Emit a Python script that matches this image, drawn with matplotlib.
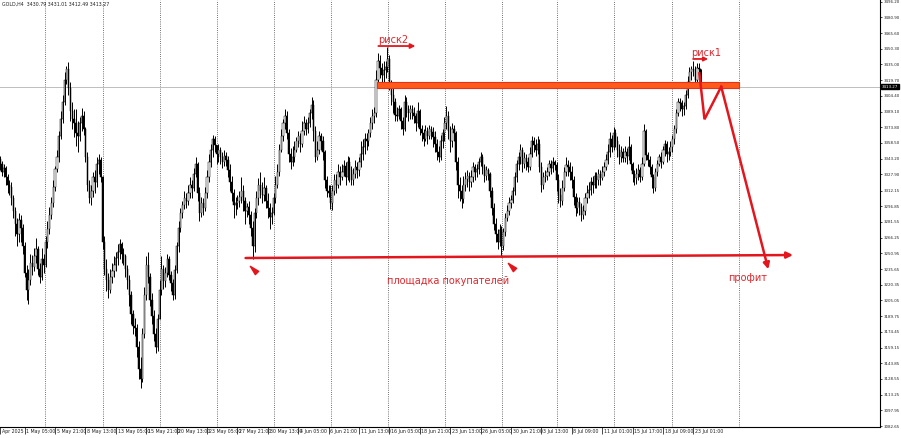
import matplotlib
matplotlib.use("Agg")
import matplotlib.pyplot as plt
from matplotlib.patches import Rectangle
from matplotlib.path import Path
from matplotlib.transforms import blended_transform_factory

# GOLD H4, 29 Apr 2025 01:00 .. 23 Jul 2025, one value per bar (open = previous close)
first_open = 3343.0
closes = [
    3338, 3330, 3334, 3325, 3318, 3316,   # 29 Apr
    3305, 3292, 3280, 3270, 3283, 3276,   # 30 Apr
    3258, 3232, 3215, 3225, 3242, 3238,   # 1 May
    3248, 3255, 3236, 3228, 3245, 3240,   # 2 May
    3262, 3275, 3288, 3300, 3316, 3333,   # 5 May
    3345, 3365, 3382, 3398, 3420, 3431,   # 6 May
    3412, 3390, 3382, 3378, 3368, 3365,   # 7 May
    3378, 3385, 3372, 3345, 3318, 3305,   # 8 May
    3312, 3325, 3320, 3338, 3342, 3325,   # 9 May
    3262, 3236, 3225, 3215, 3228, 3234,   # 12 May
    3240, 3246, 3252, 3260, 3250, 3248,   # 13 May
    3236, 3225, 3210, 3192, 3180, 3178,   # 14 May
    3160, 3138, 3128, 3172, 3210, 3240,   # 15 May
    3228, 3205, 3190, 3172, 3160, 3187,   # 16 May
    3215, 3236, 3224, 3232, 3245, 3230,   # 19 May
    3222, 3210, 3235, 3258, 3276, 3290,   # 20 May
    3298, 3305, 3302, 3310, 3318, 3315,   # 21 May
    3328, 3338, 3310, 3290, 3300, 3295,   # 22 May
    3310, 3325, 3340, 3352, 3362, 3357,   # 23 May
    3348, 3352, 3345, 3340, 3346, 3342,   # 26 May
    3332, 3320, 3310, 3298, 3300, 3302,   # 27 May
    3306, 3312, 3302, 3292, 3296, 3288,   # 28 May
    3276, 3258, 3290, 3305, 3318, 3312,   # 29 May
    3308, 3315, 3302, 3295, 3286, 3290,   # 30 May
    3305, 3318, 3330, 3352, 3365, 3378,   # 2 Jun
    3385, 3368, 3348, 3340, 3345, 3352,   # 3 Jun
    3360, 3365, 3358, 3370, 3378, 3372,   # 4 Jun
    3378, 3388, 3396, 3370, 3345, 3352,   # 5 Jun
    3365, 3360, 3350, 3322, 3312, 3310,   # 6 Jun
    3300, 3312, 3322, 3318, 3330, 3325,   # 9 Jun
    3330, 3336, 3325, 3340, 3332, 3322,   # 10 Jun
    3328, 3335, 3332, 3340, 3348, 3355,   # 11 Jun
    3362, 3360, 3368, 3378, 3385, 3388,   # 12 Jun
    3420, 3438, 3432, 3425, 3430, 3433,   # 13 Jun
    3440, 3415, 3405, 3398, 3386, 3385,   # 16 Jun
    3392, 3380, 3372, 3398, 3392, 3388,   # 17 Jun
    3392, 3388, 3385, 3378, 3390, 3372,   # 18 Jun
    3368, 3362, 3370, 3365, 3372, 3369,   # 19 Jun
    3364, 3358, 3350, 3345, 3360, 3368,   # 20 Jun
    3378, 3385, 3370, 3360, 3372, 3368,   # 23 Jun
    3340, 3318, 3312, 3304, 3318, 3323,   # 24 Jun
    3326, 3320, 3325, 3335, 3330, 3333,   # 25 Jun
    3340, 3345, 3335, 3326, 3332, 3328,   # 26 Jun
    3312, 3295, 3280, 3270, 3262, 3274,   # 27 Jun
    3258, 3272, 3285, 3292, 3300, 3303,   # 30 Jun
    3312, 3325, 3338, 3345, 3352, 3338,   # 1 Jul
    3344, 3340, 3335, 3348, 3360, 3357,   # 2 Jul
    3352, 3358, 3335, 3318, 3325, 3326,   # 3 Jul
    3330, 3338, 3334, 3340, 3337,         # 4 Jul
    3322, 3308, 3302, 3315, 3330, 3337,   # 7 Jul
    3335, 3330, 3322, 3306, 3295, 3301,   # 8 Jul
    3296, 3288, 3292, 3305, 3310, 3313,   # 9 Jul
    3320, 3318, 3326, 3322, 3328, 3324,   # 10 Jul
    3330, 3335, 3342, 3350, 3362, 3355,   # 11 Jul
    3368, 3360, 3352, 3345, 3350, 3344,   # 14 Jul
    3350, 3346, 3355, 3338, 3328, 3324,   # 15 Jul
    3328, 3332, 3325, 3338, 3370, 3347,   # 16 Jul
    3342, 3335, 3325, 3315, 3330, 3338,   # 17 Jul
    3345, 3340, 3352, 3358, 3348, 3350,   # 18 Jul
    3355, 3362, 3372, 3388, 3398, 3397,   # 21 Jul
    3392, 3395, 3405, 3418, 3428, 3431,   # 22 Jul
    3430, 3420, 3432, 3430.79, 3413.27,   # 23 Jul
]
highs = [
    3346, 3341, 3338, 3336, 3328, 3322,
    3320, 3308, 3296, 3285, 3290, 3288,
    3280, 3262, 3240, 3236, 3250, 3249,
    3256, 3266, 3258, 3242, 3256, 3250,
    3268, 3282, 3296, 3306, 3322, 3336,
    3352, 3370, 3390, 3405, 3428, 3434,
    3437, 3418, 3398, 3392, 3392, 3380,
    3384, 3393, 3390, 3374, 3350, 3322,
    3318, 3330, 3332, 3345, 3348, 3345,
    3326, 3268, 3245, 3232, 3236, 3242,
    3248, 3252, 3260, 3265, 3262, 3256,
    3250, 3240, 3230, 3214, 3196, 3188,
    3182, 3166, 3150, 3178, 3218, 3248,
    3252, 3232, 3212, 3196, 3178, 3192,
    3225, 3248, 3240, 3238, 3250, 3248,
    3234, 3226, 3240, 3262, 3282, 3295,
    3302, 3312, 3310, 3318, 3325, 3322,
    3334, 3345, 3340, 3316, 3306, 3305,
    3316, 3332, 3348, 3358, 3366, 3365,
    3356, 3358, 3355, 3350, 3352, 3350,
    3346, 3338, 3326, 3314, 3306, 3308,
    3312, 3325, 3318, 3306, 3300, 3302,
    3292, 3282, 3295, 3312, 3324, 3330,
    3320, 3325, 3318, 3310, 3300, 3296,
    3310, 3326, 3338, 3358, 3372, 3382,
    3392, 3390, 3372, 3354, 3356, 3360,
    3364, 3370, 3368, 3380, 3385, 3382,
    3384, 3392, 3403, 3400, 3375, 3360,
    3370, 3368, 3365, 3352, 3326, 3318,
    3318, 3318, 3328, 3328, 3338, 3336,
    3338, 3342, 3340, 3346, 3345, 3336,
    3334, 3342, 3340, 3345, 3360, 3362,
    3368, 3368, 3372, 3384, 3392, 3394,
    3430, 3446, 3444, 3436, 3438, 3438,
    3452, 3444, 3420, 3412, 3402, 3394,
    3396, 3394, 3384, 3405, 3403, 3396,
    3396, 3396, 3394, 3388, 3398, 3392,
    3376, 3372, 3376, 3374, 3376, 3375,
    3374, 3370, 3362, 3356, 3366, 3372,
    3384, 3395, 3390, 3375, 3378, 3376,
    3370, 3345, 3325, 3318, 3326, 3330,
    3332, 3330, 3332, 3340, 3338, 3338,
    3344, 3350, 3348, 3338, 3336, 3334,
    3330, 3316, 3300, 3285, 3275, 3280,
    3278, 3276, 3290, 3298, 3306, 3308,
    3316, 3330, 3342, 3350, 3358, 3355,
    3350, 3348, 3345, 3355, 3365, 3364,
    3362, 3365, 3362, 3340, 3330, 3332,
    3335, 3342, 3342, 3345, 3342,
    3340, 3328, 3315, 3322, 3335, 3345,
    3342, 3340, 3336, 3326, 3310, 3306,
    3306, 3300, 3298, 3310, 3318, 3320,
    3325, 3326, 3330, 3330, 3333, 3332,
    3336, 3340, 3348, 3358, 3369, 3366,
    3374, 3372, 3365, 3358, 3356, 3354,
    3356, 3354, 3365, 3358, 3340, 3332,
    3334, 3338, 3335, 3345, 3377, 3372,
    3350, 3346, 3338, 3328, 3334, 3342,
    3348, 3350, 3356, 3361, 3360, 3355,
    3360, 3366, 3376, 3392, 3402, 3402,
    3400, 3398, 3410, 3424, 3433, 3434,
    3438, 3434, 3436, 3436, 3431.01,
]
lows = [
    3332, 3326, 3325, 3318, 3310, 3308,
    3298, 3285, 3268, 3258, 3262, 3262,
    3250, 3228, 3205, 3202, 3220, 3230,
    3234, 3242, 3230, 3222, 3225, 3232,
    3238, 3256, 3270, 3284, 3296, 3312,
    3330, 3340, 3362, 3378, 3396, 3416,
    3405, 3380, 3372, 3364, 3356, 3350,
    3360, 3370, 3366, 3340, 3312, 3300,
    3298, 3306, 3310, 3316, 3328, 3320,
    3255, 3230, 3214, 3207, 3212, 3222,
    3228, 3234, 3240, 3245, 3242, 3240,
    3228, 3216, 3200, 3182, 3172, 3170,
    3150, 3128, 3120, 3126, 3168, 3205,
    3222, 3200, 3182, 3166, 3154, 3156,
    3190, 3210, 3216, 3218, 3228, 3225,
    3214, 3205, 3206, 3232, 3252, 3272,
    3285, 3294, 3295, 3298, 3305, 3305,
    3312, 3325, 3302, 3282, 3286, 3288,
    3292, 3305, 3320, 3335, 3345, 3350,
    3338, 3340, 3338, 3334, 3336, 3336,
    3325, 3312, 3302, 3285, 3288, 3294,
    3296, 3300, 3292, 3280, 3286, 3280,
    3268, 3245, 3252, 3285, 3298, 3305,
    3300, 3302, 3295, 3285, 3275, 3280,
    3288, 3300, 3315, 3326, 3350, 3360,
    3372, 3362, 3340, 3333, 3336, 3340,
    3350, 3355, 3350, 3355, 3366, 3366,
    3368, 3374, 3382, 3360, 3340, 3342,
    3348, 3352, 3342, 3315, 3306, 3306,
    3294, 3293, 3308, 3310, 3315, 3318,
    3322, 3326, 3318, 3322, 3320, 3318,
    3318, 3324, 3324, 3326, 3335, 3342,
    3348, 3352, 3356, 3364, 3372, 3378,
    3384, 3415, 3422, 3415, 3418, 3422,
    3428, 3410, 3396, 3388, 3380, 3380,
    3382, 3372, 3366, 3370, 3384, 3380,
    3382, 3382, 3378, 3370, 3374, 3366,
    3360, 3356, 3360, 3358, 3362, 3362,
    3355, 3350, 3342, 3340, 3342, 3354,
    3360, 3372, 3362, 3350, 3355, 3360,
    3332, 3305, 3302, 3295, 3300, 3312,
    3316, 3312, 3316, 3320, 3322, 3325,
    3328, 3336, 3328, 3320, 3322, 3322,
    3306, 3288, 3274, 3262, 3255, 3258,
    3247, 3254, 3268, 3282, 3288, 3295,
    3300, 3308, 3320, 3332, 3338, 3330,
    3334, 3332, 3330, 3332, 3345, 3350,
    3346, 3348, 3330, 3311, 3314, 3320,
    3322, 3326, 3328, 3330, 3332,
    3312, 3300, 3296, 3298, 3312, 3326,
    3326, 3322, 3315, 3298, 3287, 3290,
    3288, 3282, 3284, 3288, 3300, 3305,
    3308, 3310, 3315, 3315, 3318, 3318,
    3322, 3326, 3332, 3338, 3345, 3350,
    3352, 3355, 3345, 3338, 3340, 3340,
    3340, 3338, 3342, 3332, 3320, 3318,
    3319, 3322, 3320, 3322, 3336, 3342,
    3336, 3328, 3315, 3310, 3312, 3326,
    3336, 3334, 3338, 3346, 3340, 3342,
    3346, 3350, 3358, 3368, 3385, 3390,
    3385, 3386, 3392, 3402, 3414, 3420,
    3424, 3412, 3415, 3426, 3412.49,
]
assert len(closes) == len(highs) == len(lows) == 370

# time axis labels (bar index, text)
xtick_bars = [0, 13, 29, 45, 61, 77, 93, 109, 125, 141, 157, 173, 189, 205,
              221, 237, 253, 269, 285, 301, 317, 333, 349, 365]
xtick_labels = ["Apr 2025", "1 May 05:00", "5 May 21:00", "8 May 13:00", "13 May 05:00",
                "15 May 21:00", "20 May 13:00", "23 May 05:00", "27 May 21:00",
                "30 May 13:00", "4 Jun 05:00", "6 Jun 21:00", "11 Jun 13:00",
                "16 Jun 05:00", "18 Jun 21:00", "23 Jun 13:00", "26 Jun 05:00",
                "30 Jun 21:00", "3 Jul 13:00", "8 Jul 09:00", "11 Jul 01:00",
                "15 Jul 17:00", "18 Jul 09:00", "23 Jul 01:00"]
grid_bars = [23.7, 54.0, 84.2, 114.2, 144.1, 174.3, 204.1, 234.2, 264.5, 293.2,
             323.4, 353.6, 389.1]
price_ticks = [3496.20, 3480.90, 3465.60, 3450.30, 3435.00, 3419.70, 3404.40, 3389.10,
               3373.80, 3358.50, 3343.20, 3327.90, 3312.15, 3296.85, 3281.55, 3266.25,
               3250.95, 3235.65, 3220.35, 3205.05, 3189.75, 3174.45, 3159.15, 3143.85,
               3128.55, 3113.25, 3097.95, 3082.65]
last_ohlc = [3430.79, 3431.01, 3412.49, 3413.27]

# hand-drawn analysis objects (bar index, price)
band_bars = [198.7, 389.1]
band_prices = [3412.3, 3418.3]
risk2_text = (199.2, 3458.4)
risk2_arrow = [(199.2, 3453.0), (218.7, 3453.0)]
risk1_text = (363.9, 3446.2)
risk1_arrow = [(364.9, 3440.4), (372.8, 3440.4)]
zig_bars = [368.2, 370.9, 379.7, 404.5]
zig_prices = [3426.4, 3381.6, 3413.4, 3235.4]
support_bars = [129.3, 417.5]
support_prices = [3246.4, 3249.3]
marker_bars = [133.5, 269.7]
marker_prices = [3234.7, 3237.6]
buyers_text = (236.0, 3224.0)
profit_text = (393.8, 3226.9)

RED = "#e3161d"
TXT_RED = "#e0262c"

# arrow-head marker pointing up-left (MT4 style)
up_left = Path([(-1, 1), (1.0, -0.2), (0.2, -1.0), (-1, 1)],
               [Path.MOVETO, Path.LINETO, Path.LINETO, Path.CLOSEPOLY])

fig = plt.figure(figsize=(9.01, 4.38), dpi=100)
ax = fig.add_axes([0, 11 / 438, 880 / 901, 427 / 438])
ax.set_xlim(0.38, 463.3)
ax.set_ylim(3081.7, 3497.86)

for s in ("top", "left"):
    ax.spines[s].set_visible(False)
for s in ("right", "bottom"):
    ax.spines[s].set_linewidth(0.8)

# grid
for g in grid_bars:
    ax.axvline(g, color="#444444", lw=0.6, ls=(0, (1, 1.6)), zorder=1)

# candles
opens = [first_open] + closes[:-1]
opens[-1] = last_ohlc[0]
for i, (o, h, l, c) in enumerate(zip(opens, highs, lows, closes)):
    ax.vlines(i, min(l, o, c), max(h, o, c), color="black", lw=0.7, zorder=2)
    bull = c >= o
    ax.add_patch(Rectangle((i - 0.32, min(o, c)), 0.64, max(abs(c - o), 0.4),
                           facecolor="white" if bull else "black",
                           edgecolor="black", lw=0.35, zorder=2.5))

# current price line
ax.axhline(last_ohlc[3], color="#bdbdbd", lw=0.7, zorder=1.5)

# analysis
ax.add_patch(Rectangle((band_bars[0], band_prices[0]), band_bars[1] - band_bars[0],
                       band_prices[1] - band_prices[0], facecolor="#ff5a1a",
                       edgecolor="#e4321c", lw=0.8, zorder=3))
ax.text(*risk2_text, "риск2", color=TXT_RED, fontsize=7, va="center", ha="left", zorder=5)
ax.annotate("", xy=risk2_arrow[1], xytext=risk2_arrow[0],
            arrowprops=dict(arrowstyle="-|>", color=RED, lw=1.3, mutation_scale=7,
                            shrinkA=0, shrinkB=0), zorder=5)
ax.text(*risk1_text, "риск1", color=TXT_RED, fontsize=7, va="center", ha="left", zorder=5)
ax.annotate("", xy=risk1_arrow[1], xytext=risk1_arrow[0],
            arrowprops=dict(arrowstyle="-|>", color=RED, lw=1.3, mutation_scale=6,
                            shrinkA=0, shrinkB=0), zorder=5)
ax.plot(zig_bars[:3], zig_prices[:3], color=RED, lw=1.8, solid_joinstyle="miter", zorder=5)
ax.annotate("", xy=(zig_bars[3], zig_prices[3]), xytext=(zig_bars[2], zig_prices[2]),
            arrowprops=dict(arrowstyle="-|>", color=RED, lw=1.8, mutation_scale=9,
                            shrinkA=0, shrinkB=0), zorder=5)
ax.annotate("", xy=(support_bars[1], support_prices[1]),
            xytext=(support_bars[0], support_prices[0]),
            arrowprops=dict(arrowstyle="-|>", color=RED, lw=1.8, mutation_scale=9,
                            shrinkA=0, shrinkB=0), zorder=5)
ax.plot(marker_bars, marker_prices, ls="none", marker=up_left, color=RED, ms=6, zorder=5)
ax.text(*buyers_text, "площадка покупателей", color=TXT_RED, fontsize=7,
        ha="center", va="center", zorder=5)
ax.text(*profit_text, "профит", color=TXT_RED, fontsize=7, ha="center", va="center", zorder=5)

# price axis on the right
ax.yaxis.tick_right()
ax.set_yticks(price_ticks)
ax.set_yticklabels([f"{p:.2f}" for p in price_ticks])
ax.tick_params(axis="y", length=1.5, width=0.5, labelsize=2.9, pad=1.0, labelcolor="#222222")
ybl = blended_transform_factory(ax.transAxes, ax.transData)
ax.text(1.002, last_ohlc[3], f"{last_ohlc[3]:.2f}", transform=ybl, fontsize=2.9,
        color="white", va="center", ha="left",
        bbox=dict(boxstyle="square,pad=0.15", facecolor="black", edgecolor="black"))

# time axis
ax.set_xticks(xtick_bars)
ax.set_xticklabels([])
ax.tick_params(axis="x", length=5, width=0.5, direction="out")
xbl = blended_transform_factory(ax.transData, ax.transAxes)
for b, lab in zip(xtick_bars, xtick_labels):
    ax.text(b + 0.9, -0.004, lab, transform=xbl, fontsize=3.4, color="#222222",
            ha="left", va="top")

fig.text(2 / 901, 1 - 2 / 438, "GOLD,H4  %.2f %.2f %.2f %.2f" % tuple(last_ohlc),
         fontsize=3.4, va="top", ha="left", color="#222222")

fig.savefig("out.png", dpi=100)
